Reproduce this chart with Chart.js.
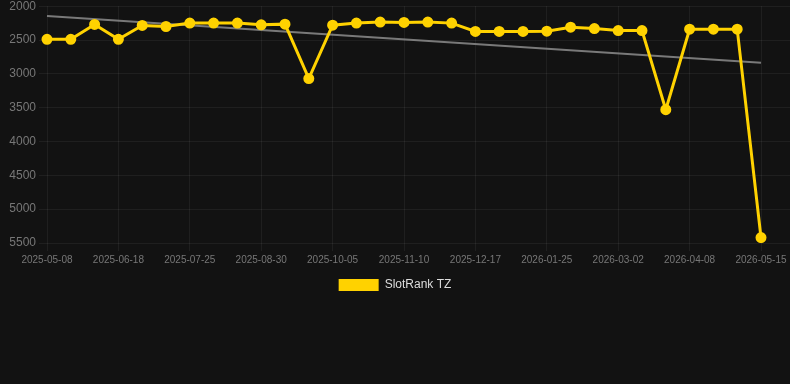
<!DOCTYPE html>
<html lang="en">
<head>
  <meta charset="UTF-8" />
  <title>SlotRank TZ</title>
  <script src="https://cdn.jsdelivr.net/npm/chart.js"></script>
  <style>
    html, body { margin: 0; padding: 0; background: #121212; overflow: hidden; }
    .chart-container { position: relative; width: 790px; height: 305px; margin-top: -4px; }
  </style>
</head>
<body>
<div class="chart-container">
  <canvas id="rankChart"></canvas>
</div>

<script>
  const dates = [
    "2025-05-08", "2025-05-22", "2025-06-04", "2025-06-18", "2025-06-30", "2025-07-13",
    "2025-07-25", "2025-08-06", "2025-08-18", "2025-08-30", "2025-09-11", "2025-09-23",
    "2025-10-05", "2025-10-17", "2025-10-29", "2025-11-10", "2025-11-22", "2025-12-05",
    "2025-12-17", "2025-12-30", "2026-01-12", "2026-01-25", "2026-02-06", "2026-02-18",
    "2026-03-02", "2026-03-14", "2026-03-26", "2026-04-08", "2026-04-20", "2026-05-02",
    "2026-05-15"
  ];
  const rankTZ = [
    2490, 2490, 2270, 2490, 2285, 2300, 2250, 2250, 2250, 2275, 2265,
    3070, 2280, 2250, 2235, 2240, 2235, 2250, 2373, 2373, 2373, 2370,
    2310, 2330, 2360, 2360, 3530, 2340, 2340, 2340, 5420
  ];
  // trend line: only the two ends, the gap is spanned
  const trend = [2145, null, null, null, null, null, null, null, null, null, null,
    null, null, null, null, null, null, null, null, null, null, null,
    null, null, null, null, null, null, null, null, 2835];
  const yTicks = [2000, 5500, 500];

  const gridColor = "rgba(255,255,255,0.06)";

  new Chart(document.getElementById("rankChart"), {
    type: "line",
    data: {
      labels: dates,
      datasets: [
        {
          label: "SlotRank TZ",
          data: rankTZ,
          borderColor: "#ffd200",
          backgroundColor: "#ffd200",
          borderWidth: 3,
          pointRadius: 4,
          pointHoverRadius: 5,
          tension: 0
        },
        {
          label: "trend",
          data: trend,
          spanGaps: true,
          borderColor: "rgba(140,140,140,0.85)",
          borderWidth: 2,
          pointRadius: 0,
          tension: 0
        }
      ]
    },
    options: {
      responsive: true,
      maintainAspectRatio: false,
      animation: false,
      plugins: {
        legend: {
          position: "bottom",
          labels: {
            color: "#dddddd",
            font: { size: 12 },
            boxWidth: 40,
            boxHeight: 12,
            filter: item => item.text !== "trend",
            generateLabels: chart =>
              Chart.defaults.plugins.legend.labels.generateLabels(chart)
                .map(item => ({ ...item, lineWidth: 0 }))
          }
        },
        tooltip: { enabled: false }
      },
      scales: {
        x: {
          grid: { color: gridColor },
          border: { display: false },
          ticks: {
            color: "#777",
            font: { size: 10 },
            maxRotation: 0,
            autoSkip: true,
            maxTicksLimit: 11
          }
        },
        y: {
          reverse: true,
          min: yTicks[0],
          max: yTicks[1],
          afterFit: scale => { scale.width = 47; },
          grid: { color: gridColor },
          border: { display: false },
          ticks: {
            stepSize: yTicks[2],
            color: "#777",
            font: { size: 12 },
            callback: v => String(v)
          }
        },
        y1: {
          position: "right",
          reverse: true,
          min: yTicks[0],
          max: yTicks[1],
          grid: { color: gridColor, drawOnChartArea: false, tickLength: 29 },
          border: { display: false },
          ticks: { stepSize: yTicks[2], display: false }
        }
      }
    }
  });
</script>
</body>
</html>
